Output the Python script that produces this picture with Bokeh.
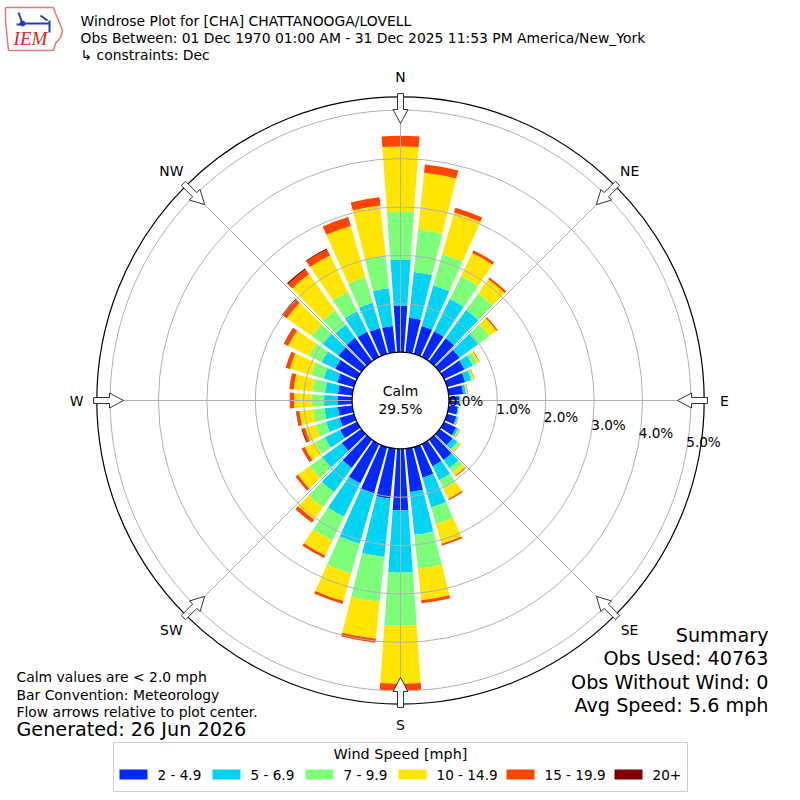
import numpy as np
from bokeh.plotting import figure
from bokeh.models import Range1d
from bokeh.embed import file_html
from bokeh.resources import INLINE
from bokeh.core.properties import value

# ---------------- data ----------------
directions = list(range(0, 360, 10))          # compass degrees, bar centres
speed_labels = ["2 - 4.9", "5 - 6.9", "7 - 9.9", "10 - 14.9", "15 - 19.9", "20+"]
speed_colors = ["#0028ff", "#00d4f5", "#7dff7a", "#ffe500", "#ff4500", "#800000"]

# percent of observations per direction and speed bin
pct_2_5 = [0.96, 0.72, 0.60, 0.59, 0.59, 0.51, 0.47, 0.39, 0.30, 0.21, 0.19, 0.20,
           0.28, 0.33, 0.52, 0.51, 0.66, 0.90, 1.27, 1.04, 1.00, 0.90, 0.72, 0.50,
           0.39, 0.31, 0.30, 0.30, 0.30, 0.36, 0.50, 0.58, 0.60, 0.58, 0.56, 0.55]
pct_5_7 = [0.95, 0.95, 0.87, 0.74, 0.72, 0.47, 0.19, 0.13, 0.06, 0.03, 0.02, 0.03,
           0.05, 0.12, 0.20, 0.32, 0.64, 0.89, 1.29, 1.21, 1.08, 0.77, 0.62, 0.49,
           0.35, 0.29, 0.28, 0.28, 0.27, 0.29, 0.31, 0.40, 0.33, 0.47, 0.54, 0.78]
pct_7_10 = [0.99, 0.88, 0.67, 0.53, 0.42, 0.29, 0.10, 0.04, 0.01, 0.01, 0.01, 0.01,
            0.01, 0.05, 0.12, 0.20, 0.36, 0.71, 1.09, 0.93, 0.64, 0.55, 0.39, 0.32,
            0.23, 0.22, 0.24, 0.26, 0.26, 0.27, 0.29, 0.29, 0.37, 0.45, 0.55, 0.67]
pct_10_15 = [1.35, 1.18, 0.90, 0.53, 0.36, 0.18, 0.05, 0.02, 0.02, 0.01, 0.00, 0.00,
             0.02, 0.02, 0.08, 0.23, 0.42, 0.65, 1.20, 0.77, 0.59, 0.34, 0.31, 0.31,
             0.23, 0.23, 0.28, 0.36, 0.39, 0.46, 0.48, 0.63, 0.92, 0.83, 1.10, 1.05]
pct_15_20 = [0.22, 0.17, 0.10, 0.06, 0.05, 0.03, 0.01, 0.01, 0.01, 0.00, 0.00, 0.01,
             0.01, 0.01, 0.02, 0.03, 0.04, 0.06, 0.14, 0.08, 0.06, 0.06, 0.08, 0.06,
             0.06, 0.06, 0.06, 0.09, 0.09, 0.09, 0.09, 0.09, 0.12, 0.14, 0.19, 0.17]
pct_20_up = [0.00, 0.00, 0.00, 0.00, 0.00, 0.00, 0.00, 0.00, 0.00, 0.00, 0.00, 0.00,
             0.00, 0.00, 0.00, 0.00, 0.00, 0.00, 0.00, 0.00, 0.00, 0.00, 0.00, 0.00,
             0.01, 0.02, 0.01, 0.00, 0.00, 0.00, 0.01, 0.03, 0.03, 0.02, 0.00, 0.00]

calm_pct = 29.5
ring_ticks = [0, 1, 2, 3, 4, 5]
compass_names = ["N", "NE", "E", "SE", "S", "SW", "W", "NW"]
compass_angles = [0, 45, 90, 135, 180, 225, 270, 315]

title_lines = ["Windrose Plot for [CHA] CHATTANOOGA/LOVELL",
               "Obs Between: 01 Dec 1970 01:00 AM - 31 Dec 2025 11:53 PM America/New_York",
               " \u21b3 constraints: Dec"]
notes_lines = ["Calm values are < 2.0 mph", "Bar Convention: Meteorology",
               "Flow arrows relative to plot center."]
generated_text = "Generated: 26 Jun 2026"
summary_lines = ["Summary", "Obs Used: 40763", "Obs Without Wind: 0", "Avg Speed: 5.6 mph"]
legend_title = "Wind Speed [mph]"

# ---------------- geometry ----------------
S = 48.4            # pixels per percent
R0 = 1.0            # calm circle radius (in percent units)
R_OUT = 303.7 / S   # outer axis circle
HALF = 4.1          # half bar width, degrees
W = 800
FONT = "DejaVu Sans"


def X(px):
    return (px - 400) / S


def Y(py):
    return (400 - py) / S


p = figure(width=W, height=W, x_range=Range1d(-400 / S, 400 / S),
           y_range=Range1d(-400 / S, 400 / S), x_axis_type=None, y_axis_type=None,
           toolbar_location=None, output_backend="svg", min_border=0,
           outline_line_color=None, background_fill_color="white",
           border_fill_color="white")

# ---------------- bars ----------------
bins = np.array([pct_2_5, pct_5_7, pct_7_10, pct_10_15, pct_15_20, pct_20_up])
cum = np.cumsum(bins, axis=0)
dirs = np.array(directions, dtype=float)
for j in range(bins.shape[0]):
    lower = cum[j] - bins[j]
    upper = cum[j]
    keep = bins[j] > 0
    p.annular_wedge(x=0, y=0,
                    inner_radius=(R0 + lower[keep]).tolist(),
                    outer_radius=(R0 + upper[keep]).tolist(),
                    start_angle=np.radians(90 - dirs[keep] - HALF).tolist(),
                    end_angle=np.radians(90 - dirs[keep] + HALF).tolist(),
                    fill_color=speed_colors[j], line_color=None)

# ---------------- grid ----------------
GRID = "#b0b0b0"
for t in ring_ticks[1:]:
    p.circle(x=0, y=0, radius=R0 + t, fill_color=None, line_color=GRID, line_width=1)
ang = np.radians(compass_angles)
p.segment(x0=(R0 * np.sin(ang)).tolist(), y0=(R0 * np.cos(ang)).tolist(),
          x1=(R_OUT * np.sin(ang)).tolist(), y1=(R_OUT * np.cos(ang)).tolist(),
          line_color=GRID, line_width=1)

# calm circle
p.circle(x=0, y=0, radius=R0, fill_color="white", line_color="black", line_width=1.2)
p.text(x=[X(400), X(400)], y=[Y(390), Y(408)], text=["Calm", "%.1f%%" % calm_pct],
       text_font=value(FONT), text_font_size="13.9px", text_align="center",
       text_baseline="middle", text_color="black")

# outer circle
p.circle(x=0, y=0, radius=R_OUT, fill_color=None, line_color="black", line_width=1.2)

# ring labels
p.text(x=[X(465.5 + 47.5 * t) for t in ring_ticks], y=[Y(400 + 8.2 * t) for t in ring_ticks],
       text=["%.1f%%" % t for t in ring_ticks], text_font=value(FONT),
       text_font_size="13.6px", text_align="center", text_baseline="middle",
       text_color="black")

# direction arrows (hollow, pointing to centre)
shape_a = np.array([277, 291, 291, 307, 307, 291, 291]) / S
shape_b = np.array([0, 7.5, 3, 3, -3, -3, -7.5]) / S
xs, ys = [], []
for a in ang:
    xs.append((shape_a * np.sin(a) + shape_b * np.cos(a)).tolist())
    ys.append((shape_a * np.cos(a) - shape_b * np.sin(a)).tolist())
p.patches(xs=xs, ys=ys, fill_color="white", line_color="#333333", line_width=1)

# compass labels
RL = 324 / S
p.text(x=(RL * np.sin(ang)).tolist(), y=(RL * np.cos(ang)).tolist(), text=compass_names,
       text_font=value(FONT), text_font_size="13.9px", text_align="center",
       text_baseline="middle", text_color="black")

# ---------------- header ----------------
p.text(x=[X(80), X(80), X(80)], y=[Y(20), Y(37), Y(54)], text=title_lines,
       text_font=value(FONT), text_font_size="13.9px", text_align="left",
       text_baseline="middle", text_color="black")

# logo
iowa_x = [5, 53, 55, 58, 62, 60, 55, 53, 8, 7, 5, 5]
iowa_y = [7, 7, 13, 20, 30, 37, 43, 50, 50, 40, 20, 7]
p.line(x=[X(v) for v in iowa_x], y=[Y(v) for v in iowa_y], line_color="#e07a7a",
       line_width=1.5)
p.text(x=[X(30)], y=[Y(38)], text=["IEM"], text_font=value("Liberation Serif"),
       text_font_size="19px", text_font_style="italic", text_align="center",
       text_baseline="middle", text_color="#d42a2a")
BLUE = "#1f3fbf"
p.segment(x0=[X(22), X(18), X(40), X(49), X(16)], y0=[Y(23), Y(12), Y(15), Y(20), Y(24)],
          x1=[X(49), X(22), X(47), X(49), X(21)], y1=[Y(23), Y(23), Y(20), Y(32), Y(24)],
          line_color=BLUE, line_width=2)
p.scatter(x=[X(22)], y=[Y(23)], size=5, fill_color=BLUE, line_color=BLUE)

# ---------------- notes ----------------
p.text(x=[X(16)] * 3, y=[Y(676), Y(694), Y(711)], text=notes_lines,
       text_font=value(FONT), text_font_size="13.9px", text_align="left",
       text_baseline="middle", text_color="black")
p.text(x=[X(16)], y=[Y(729)], text=[generated_text], text_font=value(FONT),
       text_font_size="19.2px", text_align="left", text_baseline="middle",
       text_color="black")
p.text(x=[X(768)] * 4, y=[Y(635), Y(658), Y(682), Y(705)], text=summary_lines,
       text_font=value(FONT), text_font_size="19.2px", text_align="right",
       text_baseline="middle", text_color="black")

# ---------------- legend ----------------
p.quad(left=[X(113)], right=[X(687)], top=[Y(742)], bottom=[Y(791)],
       fill_color="white", line_color="#cccccc", line_width=1)
p.text(x=[X(400)], y=[Y(753)], text=[legend_title], text_font=value(FONT),
       text_font_size="14.4px", text_align="center", text_baseline="middle",
       text_color="black")
patch_left = [119, 212, 305, 398, 506, 614]
label_left = [157, 250, 343, 436, 544, 652]
p.quad(left=[X(v) for v in patch_left], right=[X(v + 28) for v in patch_left],
       top=[Y(769)] * 6, bottom=[Y(779)] * 6, fill_color=speed_colors, line_color=None)
p.text(x=[X(v) for v in label_left], y=[Y(774)] * 6, text=speed_labels,
       text_font=value(FONT), text_font_size="13.6px", text_align="left",
       text_baseline="middle", text_color="black")

open("out.html", "w").write(file_html(p, INLINE))
